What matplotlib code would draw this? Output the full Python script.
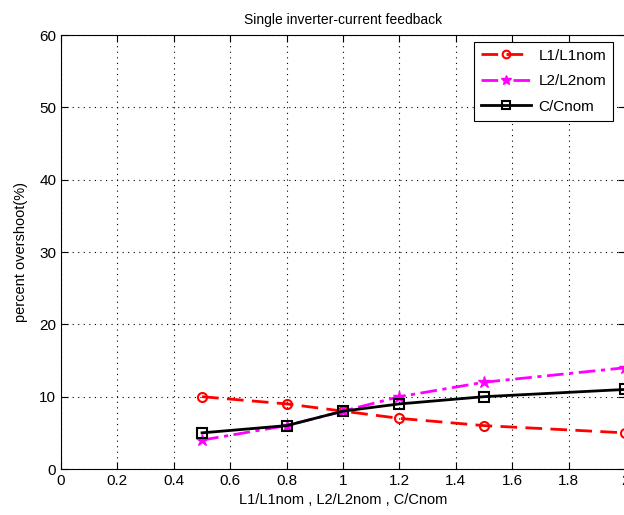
import numpy as np
import matplotlib
matplotlib.use('Agg')
import matplotlib.pyplot as plt

plt.rcParams['font.family'] = ['Liberation Sans', 'DejaVu Sans']

# values
ratio = [0.5, 0.8, 1.0, 1.2, 1.5, 2.0]
l1_overshoot = [10, 9, 8, 7, 6, 5]
l2_overshoot = [4, 6, 8, 10, 12, 14]
c_overshoot = [5, 6, 8, 9, 10, 11]

x_ticks = [0, 0.2, 0.4, 0.6, 0.8, 1, 1.2, 1.4, 1.6, 1.8, 2]
x_labels = ['0', '0.2', '0.4', '0.6', '0.8', '1', '1.2', '1.4', '1.6', '1.8', '2']
y_ticks = [0, 10, 20, 30, 40, 50, 60]

fig = plt.figure(figsize=(6.24, 5.15), dpi=100)
ax = fig.add_axes([0.0978, 0.0893, 0.904, 0.8427])

ax.plot(ratio, l1_overshoot, color='red', linestyle=(0, (6, 3)), linewidth=2,
        marker='o', markersize=6.5, markerfacecolor='none', markeredgewidth=1.5,
        label='L1/L1nom')
ax.plot(ratio, l2_overshoot, color='magenta', linestyle=(0, (6, 2, 1.5, 2)), linewidth=2,
        marker='*', markersize=9, label='L2/L2nom')
ax.plot(ratio, c_overshoot, color='black', linestyle='-', linewidth=2,
        marker='s', markersize=7.5, markerfacecolor='none', markeredgewidth=1.5,
        label='C/Cnom')

ax.set_xlim(0, 2)
ax.set_ylim(0, 60)
ax.set_xticks(x_ticks)
ax.set_xticklabels(x_labels)
ax.set_yticks(y_ticks)
ax.tick_params(direction='in', top=True, right=True, labelsize=11, length=5)
ax.grid(True, color='black', linestyle=(0, (1, 4)), linewidth=0.8)

ax.set_title('Single inverter-current feedback', fontsize=10, pad=8)
ax.set_xlabel('L1/L1nom , L2/L2nom , C/Cnom', fontsize=10.5)
ax.set_ylabel('percent overshoot(%)', fontsize=10.5, labelpad=8)

leg = ax.legend(loc='upper right', fontsize=11, fancybox=False, framealpha=1,
                edgecolor='black', borderpad=0.45, labelspacing=0.75,
                handlelength=3.3, handletextpad=0.5, markerscale=0.85,
                borderaxespad=0, bbox_to_anchor=(0.979, 0.984))
leg.get_frame().set_linewidth(0.8)

fig.savefig('out.png', dpi=100)
